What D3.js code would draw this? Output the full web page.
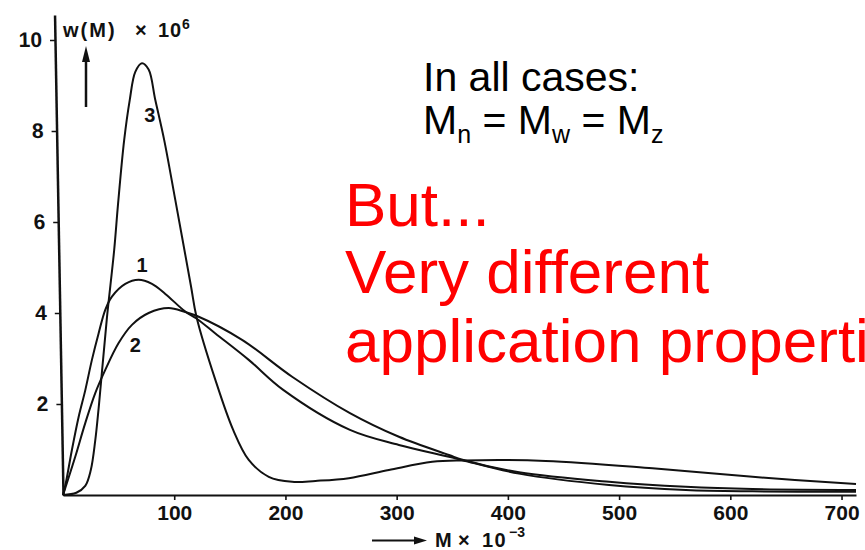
<!DOCTYPE html>
<html>
<head>
<meta charset="utf-8">
<script src="https://cdn.jsdelivr.net/npm/d3@7"></script>
<style>
  html, body { margin: 0; padding: 0; background: #fff; }
  svg { display: block; }
  .scan { font-family: "Liberation Sans", Arial, Helvetica, sans-serif; font-weight: bold; fill: #111; }
  .note { font-family: "Liberation Sans", Arial, Helvetica, sans-serif; }
</style>
</head>
<body>
<svg id="chart" width="865" height="550"></svg>
<script>
// Molar mass M (x 10^-3) and weight fraction w(M) (x 10^6) for the three distributions
const curve1M = [0, 2.5, 8, 14, 20, 26, 32, 38, 44, 56, 68, 80, 92, 110, 120, 137, 167, 198, 258, 302, 347, 360, 410, 491, 560, 620, 713];
const curve1W = [0, 0.26, 0.99, 1.71, 2.3, 2.97, 3.55, 4.07, 4.36, 4.64, 4.73, 4.64, 4.42, 4.03, 3.88, 3.55, 2.97, 2.31, 1.43, 1.1, 0.84, 0.76, 0.47, 0.22, 0.11, 0.08, 0.07];

const curve2M = [0, 2.4, 11, 20, 29, 38, 50, 62, 77, 95, 110, 120, 161, 206, 258, 302, 347, 360, 410, 491, 560, 620, 713];
const curve2W = [0, 0.18, 0.84, 1.58, 2.24, 2.75, 3.34, 3.74, 4.0, 4.11, 4.02, 3.94, 3.41, 2.6, 1.8, 1.28, 0.88, 0.77, 0.5, 0.29, 0.18, 0.13, 0.11];

const curve3M = [0, 12, 20, 25, 29, 32, 35, 39.5, 46, 49.5, 55, 60, 65, 71, 77, 83, 91, 101, 115, 120, 137, 153, 167, 185, 206, 227, 257, 293, 332, 360, 434, 530, 620, 713];
const curve3W = [0, 0.05, 0.2, 0.55, 1.2, 1.9, 2.7, 3.9, 5.38, 6.4, 7.8, 8.68, 9.3, 9.49, 9.35, 8.68, 7.8, 6.48, 4.6, 3.92, 2.53, 1.43, 0.77, 0.4, 0.29, 0.31, 0.37, 0.55, 0.73, 0.76, 0.75, 0.59, 0.4, 0.24];

const curveNames = ["1", "2", "3"];
const xTickValues = [100, 200, 300, 400, 500, 600, 700];
const yTickValues = [2, 4, 6, 8, 10];

const svg = d3.select("#chart");

const x = d3.scaleLinear().domain([0, 713]).range([63, 856]);
const y = d3.scaleLinear().domain([0, 10.55]).range([495, 15]);

// x axis
const xAxis = svg.append("g")
  .attr("transform", `translate(0,${y(0)})`)
  .call(d3.axisBottom(x).tickValues(xTickValues).tickSize(5).tickPadding(5).tickSizeOuter(0));
xAxis.select(".domain").attr("stroke", "#111").attr("stroke-width", 2);
xAxis.selectAll(".tick line").attr("stroke", "#111").attr("stroke-width", 1.6);
xAxis.selectAll(".tick text").attr("class", "scan").attr("font-size", 21);

// y axis (the printed axis leans slightly)
const yAxis = svg.append("g")
  .attr("transform", `translate(63,${y(0)}) skewX(1.01) translate(0,${-y(0)})`)
  .call(d3.axisLeft(y).tickValues(yTickValues).tickSize(5).tickPadding(8).tickSizeOuter(0));
yAxis.select(".domain").attr("stroke", "#111").attr("stroke-width", 2.5);
yAxis.selectAll(".tick line").attr("stroke", "#111").attr("stroke-width", 1.6);
yAxis.selectAll(".tick text").attr("class", "scan").attr("font-size", 21);

// distribution curves
const line = d3.line()
  .x(d => x(d[0]))
  .y(d => y(d[1]))
  .curve(d3.curveCatmullRom.alpha(0.5));

const series = [
  d3.zip(curve1M, curve1W),
  d3.zip(curve2M, curve2W),
  d3.zip(curve3M, curve3W)
];

svg.append("g")
  .selectAll("path")
  .data(series)
  .join("path")
  .attr("d", line)
  .attr("fill", "none")
  .attr("stroke", "#111")
  .attr("stroke-width", 2)
  .attr("stroke-linejoin", "round");

// curve numbers
const labelAt = [[71, 5.05], [65, 3.3], [78, 8.35]];
svg.append("g")
  .selectAll("text")
  .data(curveNames)
  .join("text")
  .attr("class", "scan")
  .attr("font-size", 20)
  .attr("text-anchor", "middle")
  .attr("x", (d, i) => x(labelAt[i][0]))
  .attr("y", (d, i) => y(labelAt[i][1]) + 7)
  .text(d => d);

// y axis title with upward arrow
const yTitle = svg.append("text").attr("class", "scan").attr("font-size", 20).attr("y", 37);
yTitle.append("tspan").attr("x", 63).attr("letter-spacing", 2).text("w(M)");
yTitle.append("tspan").attr("x", 135).text("×");
yTitle.append("tspan").attr("x", 158).attr("letter-spacing", 1).text("10");
svg.append("text").attr("class", "scan").attr("font-size", 14).attr("x", 182).attr("y", 29).text("6");

svg.append("line").attr("x1", 86).attr("y1", 107).attr("x2", 86).attr("y2", 58)
  .attr("stroke", "#111").attr("stroke-width", 2.5);
svg.append("path").attr("d", "M82,62 L86,46 L90,62 Z").attr("fill", "#111");

// x axis title with rightward arrow
svg.append("line").attr("x1", 372).attr("y1", 540.5).attr("x2", 418).attr("y2", 540.5)
  .attr("stroke", "#111").attr("stroke-width", 2.2);
svg.append("path").attr("d", "M414,536.5 L427,540.5 L414,544.5 Z").attr("fill", "#111");
const xTitle = svg.append("text").attr("class", "scan").attr("font-size", 20).attr("y", 547);
xTitle.append("tspan").attr("x", 435).text("M");
xTitle.append("tspan").attr("x", 458).text("×");
xTitle.append("tspan").attr("x", 482).attr("letter-spacing", 1.5).text("10");
svg.append("text").attr("class", "scan").attr("font-size", 14).attr("x", 509).attr("y", 537).text("−3");

// notes
const note1 = svg.append("text").attr("class", "note").attr("font-size", 41).attr("fill", "#000");
note1.append("tspan").attr("x", 423).attr("y", 91).text("In all cases:");
const note2 = svg.append("text").attr("class", "note").attr("font-size", 41).attr("fill", "#000")
  .attr("x", 423).attr("y", 134);
note2.append("tspan").text("M");
note2.append("tspan").attr("font-size", 25).attr("dy", 9).text("n");
note2.append("tspan").attr("dy", -9).text(" = M");
note2.append("tspan").attr("font-size", 25).attr("dy", 9).text("w");
note2.append("tspan").attr("dy", -9).text(" = M");
note2.append("tspan").attr("font-size", 25).attr("dy", 9).text("z");

const red = svg.append("text").attr("class", "note").attr("font-size", 62).attr("fill", "#ff0000");
red.append("tspan").attr("x", 345).attr("y", 226).text("But...");
red.append("tspan").attr("x", 345).attr("y", 293).text("Very different");
red.append("tspan").attr("x", 345).attr("y", 362).text("application properties");
</script>
</body>
</html>
